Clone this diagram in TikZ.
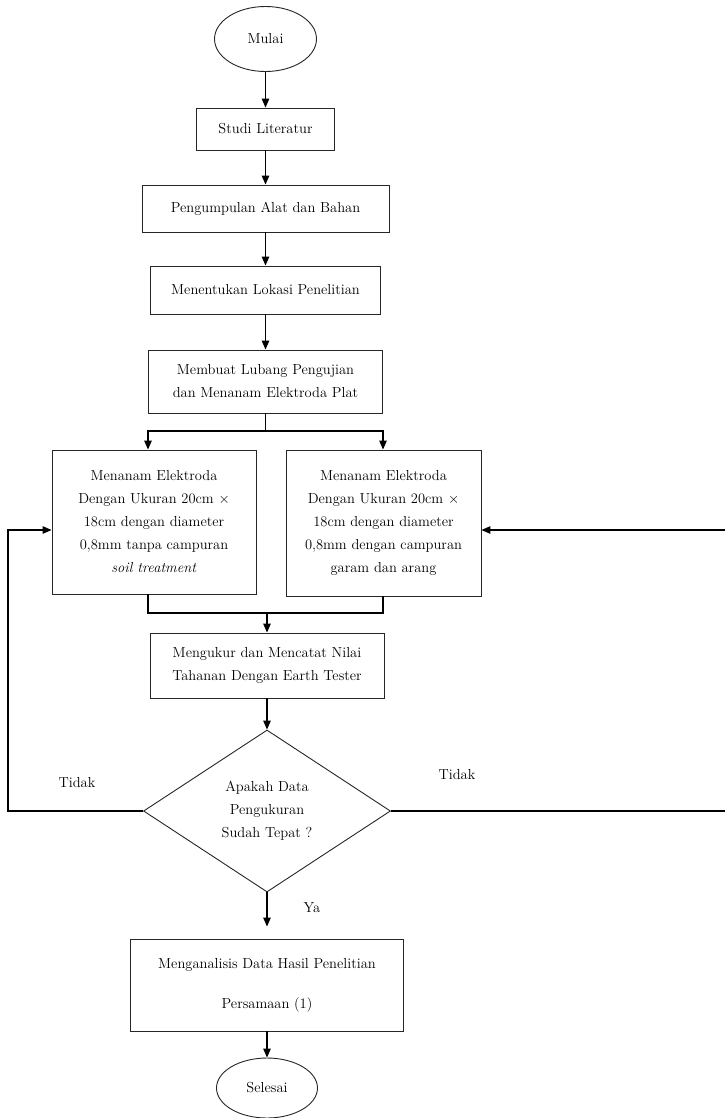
\documentclass[tikz,border=0pt]{standalone}
\usepackage{fontspec}
\usetikzlibrary{shapes.geometric,arrows.meta}
\begin{document}
\begin{tikzpicture}[x=1pt,y=-1pt,
  every node/.style={font=\fontsize{14.5}{23}\selectfont, inner sep=0pt},
  proc/.style={draw=black!85, line width=0.9pt, rectangle, align=center},
  term/.style={draw=black!85, line width=0.9pt, ellipse},
  decis/.style={draw=black!85, line width=0.9pt, diamond, align=center},
  arr/.style={line width=1.2pt, -{Triangle[length=9pt,width=7.5pt]}},
  ln/.style={line width=1.2pt}
]
\useasboundingbox (0,0) rectangle (725,1118);
\node[term, minimum width=102pt, minimum height=65pt] (start) at (265.5,39) {Mulai};
\node[proc, minimum width=138pt, minimum height=42pt] (studi) at (265.5,129) {Studi Literatur};
\node[proc, minimum width=247pt, minimum height=47pt] (kumpul) at (265.5,208.5) {Pengumpulan Alat dan Bahan};
\node[proc, minimum width=230pt, minimum height=48pt] (lokasi) at (265.5,290) {Menentukan Lokasi Penelitian};
\node[proc, minimum width=234pt, minimum height=63pt] (lubang) at (265.5,381.5) {Membuat Lubang Pengujian\\dan Menanam Elektroda Plat};
\node[proc, minimum width=204pt, minimum height=144pt] (left) at (154,522) {Menanam Elektroda\\Dengan Ukuran 20cm $\times$\\18cm dengan diameter\\0,8mm tanpa campuran\\\textit{soil treatment}};
\node[proc, minimum width=195pt, minimum height=146pt] (right) at (383.5,523) {Menanam Elektroda\\Dengan Ukuran 20cm $\times$\\18cm dengan diameter\\0,8mm dengan campuran\\garam dan arang};
\node[proc, minimum width=234pt, minimum height=65pt] (ukur) at (267,665.5) {Mengukur dan Mencatat Nilai\\Tahanan Dengan Earth Tester};
\node[decis, minimum width=247pt, minimum height=162pt] (dec) at (267,811) {Apakah Data\\Pengukuran\\Sudah Tepat ?};
\node[proc, minimum width=273pt, minimum height=92pt, font=\fontsize{14.5}{40}\selectfont] (analisis) at (267,985) {Menganalisis Data Hasil Penelitian\\Persamaan (1)};
\node[term, minimum width=101pt, minimum height=60pt] (end) at (267,1088) {Selesai};

\node (tidakL) at (77,783) {Tidak};
\node (tidakR) at (457,775) {Tidak};
\node (ya) at (312,908) {Ya};

\coordinate (split) at (265.5,431);
\coordinate (merge) at (267,613);
\coordinate (lx) at (148,0);
\coordinate (rx) at (383,0);
\coordinate (fbL) at (8,811);
\coordinate (fbR) at (725,811);
\coordinate (inR) at (725,530);

\draw[arr] (start) -- (studi);
\draw[arr] (studi) -- (kumpul);
\draw[arr] (kumpul) -- (lokasi);
\draw[arr] (lokasi) -- (lubang);
\draw[ln] (lubang.south) -- (split);
\draw[arr] (split) -| (lx |- left.north);
\draw[arr] (split) -| (rx |- right.north);
\draw[ln] (lx |- left.south) |- (merge);
\draw[ln] (rx |- right.south) |- (merge);
\draw[arr] (merge) -- (ukur.north);
\draw[arr] (ukur) -- (dec);
\draw[arr] (dec.west) -- (fbL) |- ([yshift=-8pt]left.west);
\draw[ln] (dec.east) -- (fbR);
\draw[arr] (inR) -- (inR -| right.east);
\draw[arr, shorten >=12pt] (dec.south) -- (analisis.north);
\draw[arr] (analisis) -- (end);
\end{tikzpicture}
\end{document}
